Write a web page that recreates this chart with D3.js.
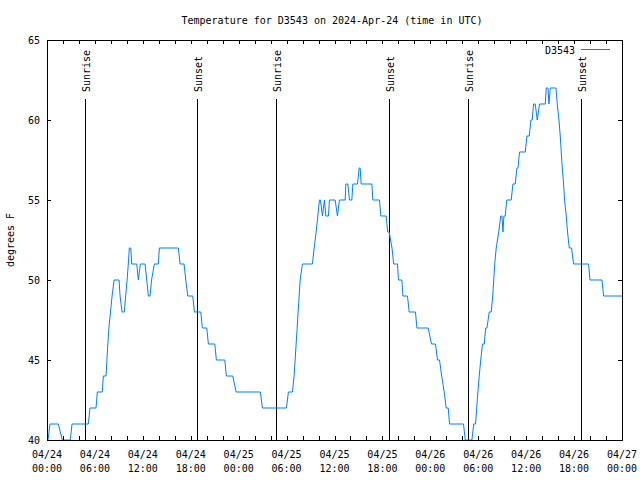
<!DOCTYPE html>
<html><head><meta charset="utf-8">
<script src="https://cdn.jsdelivr.net/npm/d3@7"></script>
<style>
body{margin:0;background:#fff}
svg{display:block}
text{font-family:"DejaVu Sans Mono","Liberation Mono",monospace;font-size:10px;fill:#000}
</style></head>
<body><svg id="c" width="640" height="480"></svg>
<script>
// ---- data (hours since 2024-04-24 00:00 UTC, temperature °F) ----
const hours = [0.125,0.376,1.416,1.917,2.919,3.132,5.174,5.387,6.139,6.302,6.928,7.053,7.392,7.50,7.62,7.75,7.95,8.15,8.394,
9.020,9.15,9.40,9.52,9.684,9.85,10.03,10.18,10.31,10.49,10.611,11.238,11.438,11.689,12.277,12.490,12.691,12.904,13.092,13.443,13.944,14.069,
16.449,16.662,17.163,17.376,17.627,18.253,18.454,19.255,19.456,20.007,20.208,21.010,21.210,22.262,22.463,23.264,23.678,
26.722,26.973,29.980,30.230,30.731,30.944,31.069,31.195,31.320,31.445,31.570,31.696,31.984,33.237,33.450,33.700,33.913,
34.114,34.239,34.489,34.739,34.915,35.241,35.366,36.081,36.369,36.619,37.333,37.421,37.671,37.872,38.173,38.298,38.874,39.087,39.213,39.338,
40.678,40.804,41.631,41.806,42.470,42.658,42.846,43.2,43.41,43.887,44.012,44.438,44.563,45.139,45.352,46.141,46.316,47.732,48.145,48.646,
48.897,49.148,49.423,49.737,49.987,50.238,50.401,52.155,52.368,53.207,53.433,53.658,53.808,53.959,54.122,54.310,54.535,54.748,54.936,55.086,
55.374,55.625,55.813,55.938,56.063,56.251,56.565,56.815,56.966,57.091,57.216,57.379,57.567,58.130,58.343,58.631,58.844,58.970,59.170,59.884,
60.096,60.385,60.598,60.761,60.924,61.137,61.387,61.676,62.390,62.515,62.728,62.853,63.016,63.730,63.893,64.106,64.269,64.394,
64.519,64.692,64.807,65.020,65.183,65.396,65.684,65.935,67.814,67.990,69.493,69.694,72.0];
const tempF = [40,41,41,40,40,41,41,42,42,43,43,44,44,45,46,47,48,49,50,
50,49,48,48,48,49,50,51,52,52,51,51,50,51,51,50,49,49,50,51,51,52,
52,51,51,50,49,49,48,48,47,47,46,46,45,45,44,44,43,
43,42,42,43,43,44,45,46,47,48,49,50,51,51,52,53,54,
55,55,54,55,54,54,55,55,54,55,55,56,56,55,55,56,56,57,57,56,
56,55,55,54,54,53,53,52,51,51,50,50,49,49,48,48,47,47,46,46,
45,45,44,43,42,42,41,41,40,40,41,41,42,43,44,45,46,46,47,47,
48,48,49,50,51,52,53,54,54,53,54,54,55,55,56,56,57,57,58,58,
59,59,60,60,61,61,60,61,61,62,62,61,62,62,61,60,59,58,
57,56,55,54,53,52,52,51,51,50,50,49,49];
const sunrise = ["2024-04-24T04:42Z","2024-04-25T04:41Z","2024-04-26T04:40Z"];
const sunset  = ["2024-04-24T18:49Z","2024-04-25T18:50Z","2024-04-26T18:51Z"];
const yTicks = [40,45,50,55,60,65];
const title = "Temperature for D3543 on 2024-Apr-24 (time in UTC)";
const seriesName = "D3543";
const yLabel = "degrees F";

// ---- chart ----
const start = Date.UTC(2024,3,24,0,0);
const data = hours.map((h,i)=>({t:new Date(start+h*3600e3), v:tempF[i]}));
const svg = d3.select("#c");
const L=47, R=622, T=40, B=440;
const x = d3.scaleUtc().domain([new Date(start), new Date(Date.UTC(2024,3,27))]).range([L,R]);
const y = d3.scaleLinear().domain([40,65]).range([B,T]);

const plot = svg.append("g");
plot.append("clipPath").attr("id","clip").append("rect").attr("x",L).attr("y",T).attr("width",R-L).attr("height",B-T);

// sun lines
const sun = [...sunrise.map(s=>({t:new Date(s),n:"Sunrise"})), ...sunset.map(s=>({t:new Date(s),n:"Sunset"}))];
sun.forEach(d=>{
  const xx = Math.round(x(d.t))+0.5;
  plot.append("line").attr("x1",xx).attr("x2",xx).attr("y1",99).attr("y2",B).attr("stroke","#000").attr("stroke-width",1);
  plot.append("text").attr("transform",`translate(${xx+4},92) rotate(-90)`).attr("text-anchor","start").text(d.n);
});

// data line
const line = d3.line().x(d=>x(d.t)).y(d=>y(d.v));
plot.append("path").datum(data).attr("clip-path","url(#clip)").attr("fill","none").attr("stroke","#0080ff").attr("stroke-width",1).attr("d",line);

// axes
const fmtD = d3.utcFormat("%m/%d"), fmtT = d3.utcFormat("%H:%M");
const xb = d3.axisBottom(x).ticks(d3.utcHour.every(2)).tickSize(-4).tickPadding(0).tickFormat(()=> "");
const gxb = svg.append("g").attr("transform",`translate(0,${B})`).call(xb);
const xt = d3.axisTop(x).ticks(d3.utcHour.every(2)).tickSize(-4).tickFormat(()=> "");
const gxt = svg.append("g").attr("transform",`translate(0,${T})`).call(xt);
const yl = d3.axisLeft(y).tickValues(yTicks).tickSize(-4).tickFormat(()=> "");
const gyl = svg.append("g").attr("transform",`translate(${L},0)`).call(yl);
const yr = d3.axisRight(y).tickValues(yTicks).tickSize(-4).tickFormat(()=> "");
const gyr = svg.append("g").attr("transform",`translate(${R},0)`).call(yr);
[gxb,gxt,gyl,gyr].forEach(g=>{g.selectAll(".domain").remove(); g.selectAll("line").attr("stroke","#000").attr("shape-rendering","crispEdges");});

// frame
svg.append("rect").attr("x",L).attr("y",T).attr("width",R-L).attr("height",B-T).attr("fill","none").attr("stroke","#000").attr("shape-rendering","crispEdges");

// x labels every 6h
x.ticks(d3.utcHour.every(6)).forEach(d=>{
  const t = svg.append("text").attr("text-anchor","middle");
  t.append("tspan").attr("x",x(d)).attr("y",457.5).text(fmtD(d));
  t.append("tspan").attr("x",x(d)).attr("y",471.5).text(fmtT(d));
});
// y labels
yTicks.forEach(v=>{
  svg.append("text").attr("x",40).attr("y",y(v)+4).attr("text-anchor","end").text(v);
});
// title, y label
svg.append("text").attr("x",332).attr("y",24).attr("text-anchor","middle").text(title);
svg.append("text").attr("transform","translate(14,240) rotate(-90)").attr("text-anchor","middle").text(yLabel);
// legend
svg.append("text").attr("x",575).attr("y",53.5).attr("text-anchor","end").text(seriesName);
svg.append("line").attr("x1",581).attr("x2",610).attr("y1",49.5).attr("y2",49.5).attr("stroke","#0080ff").attr("stroke-width",1);
</script></body></html>
